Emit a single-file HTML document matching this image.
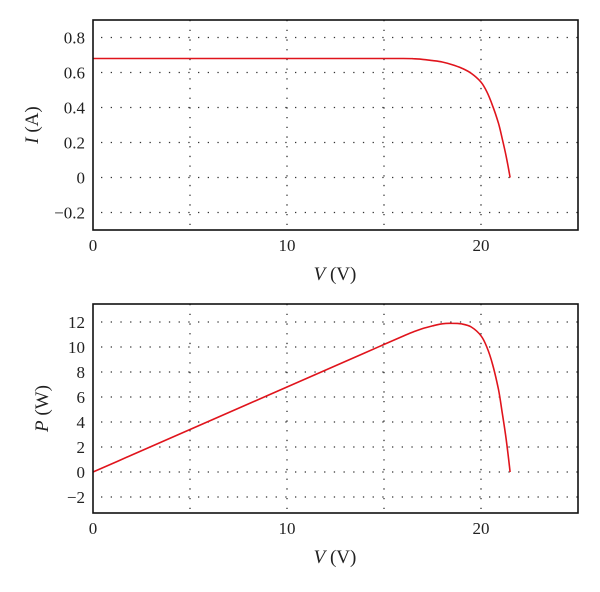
<!DOCTYPE html>
<html><head><meta charset="utf-8"><style>
body{margin:0;background:#fff;}
svg{display:block;font-family:"Liberation Serif",serif;}
</style></head><body>
<svg id="chart" width="600" height="592" viewBox="0 0 600 592"></svg>
<script>
const vData=[0,2,4,6,8,10,12,14,16,16.5,17,17.5,18,18.5,19,19.5,20,20.3,20.6,20.9,21.1,21.3,21.5];
const iData=[0.68,0.68,0.68,0.68,0.68,0.68,0.68,0.68,0.68,0.679,0.675,0.668,0.66,0.645,0.625,0.595,0.545,0.49,0.41,0.31,0.22,0.12,0];
const pData=[0,1.36,2.72,4.08,5.44,6.8,8.16,9.52,10.88,11.2,11.48,11.69,11.86,11.9,11.85,11.6,10.9,10.0,8.6,6.6,4.7,2.6,0];
const xTicks=[0,10,20];
const iTicks=[-0.2,0,0.2,0.4,0.6,0.8];
const iTickLabels=["\u22120.2","0","0.2","0.4","0.6","0.8"];
const pTicks=[-2,0,2,4,6,8,10,12];
const pTickLabels=["\u22122","0","2","4","6","8","10","12"];
const xGrid=[5,10,15,20];

const svg=document.getElementById('chart');
const NS='http://www.w3.org/2000/svg';
function mk(t,a,p){const e=document.createElementNS(NS,t);for(const k in a)e.setAttribute(k,a[k]);(p||svg).appendChild(e);return e;}
function smoothPath(P){
  let d='M'+P[0][0].toFixed(1)+','+P[0][1].toFixed(1);
  for(let i=0;i<P.length-1;i++){
    const p0=P[i-1]||P[i],p1=P[i],p2=P[i+1],p3=P[i+2]||P[i+1];
    const c1=[p1[0]+(p2[0]-p0[0])/6,p1[1]+(p2[1]-p0[1])/6];
    const c2=[p2[0]-(p3[0]-p1[0])/6,p2[1]-(p3[1]-p1[1])/6];
    d+=' C'+c1.map(n=>n.toFixed(1)).join(',')+' '+c2.map(n=>n.toFixed(1)).join(',')+' '+p2.map(n=>n.toFixed(1)).join(',');
  }
  return d;
}

function panel(name,top,bottom,ymin,ymax,ys,yTicks,yLabels,yTitle,yTitleX){
  const L=93,R=578;
  const xs=v=>L+(v-0)/(25-0)*(R-L);
  const yy=v=>bottom-(v-ymin)/(ymax-ymin)*(bottom-top);
  const g=mk('g',{});
  
  
  for(const v of xGrid){
    const l=mk('line',{x1:xs(v),x2:xs(v),y1:top,y2:bottom,stroke:'#333','stroke-width':1.3,'stroke-dasharray':'1.3 8.4'},g);
    
    
  }
  yTicks.forEach((v,i)=>{
    const l=mk('line',{x1:L+8,x2:R,y1:yy(v),y2:yy(v),stroke:'#333','stroke-width':1.3,'stroke-dasharray':'1.3 8.4'},g);
    
    
    const t=mk('text',{x:L-8,y:yy(v)+6,'text-anchor':'end','font-size':17,fill:'#222'},g);
    t.textContent=yLabels[i];
    
    
  });
  xTicks.forEach(v=>{
    const t=mk('text',{x:xs(v),y:bottom+21,'text-anchor':'middle','font-size':17,fill:'#222'},g);
    t.textContent=String(v);
    
    
  });
  const pts=vData.map((v,i)=>[xs(v),yy(ys[i])]);
  const line=mk('path',{d:smoothPath(pts),fill:'none',stroke:'#e0141c','stroke-width':1.6,'stroke-linejoin':'round'},g);
  
  
  const box=mk('rect',{x:L,y:top,width:R-L,height:bottom-top,fill:'none',stroke:'#111','stroke-width':1.6},g);
  
  
  const xt=mk('text',{x:335,y:bottom+50,'text-anchor':'middle','font-size':19,fill:'#222'},g);
  xt.innerHTML='<tspan font-style="italic">V</tspan> (V)';
  
  
  const cy=(top+bottom)/2;
  const yt=mk('text',{x:yTitleX,y:cy,'text-anchor':'middle','font-size':19,fill:'#222',transform:'rotate(-90 '+yTitleX+' '+cy+')'},g);
  yt.innerHTML='<tspan font-style="italic">'+yTitle[0]+'</tspan> '+yTitle[1];
  
  
}
panel('iv',20,230,-0.3,0.9,iData,iTicks,iTickLabels,['I','(A)'],38);
panel('pv',304,513,-3.28,13.44,pData,pTicks,pTickLabels,['P','(W)'],48);
</script>
</body></html>
